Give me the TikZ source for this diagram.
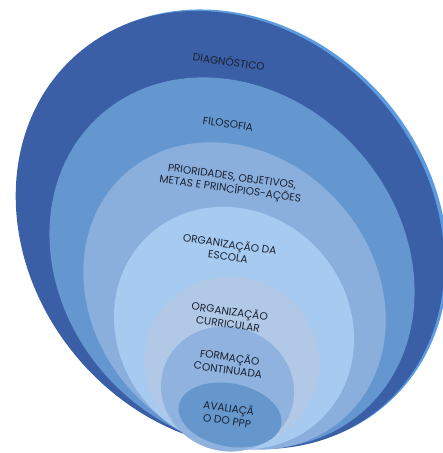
\documentclass[tikz,border=0pt]{standalone}
\usepackage{fontspec}
\setmainfont{Poppins}
\definecolor{cRim}{HTML}{5C9BE0}
\definecolor{cA}{HTML}{3A5FA6}
\definecolor{cB}{HTML}{6497CF}
\definecolor{cC}{HTML}{8BAFDD}
\definecolor{cD}{HTML}{A7CBF0}
\definecolor{cE}{HTML}{B1C8E6}
\definecolor{cF}{HTML}{8FB2DE}
\definecolor{cG}{HTML}{6596CC}
\definecolor{cTxt}{HTML}{1B2232}
\begin{document}
\begin{tikzpicture}[x=1pt,y=1pt,
  lbl/.style={text=cTxt, align=center, inner sep=0pt, rotate=-8,
    font=\fontsize{10.6}{12.6}\selectfont}]
\useasboundingbox (0,0) rectangle (443,453);
% outer rim
\fill[cRim, rotate around={-49:(233.5,224.5)}] (233.5,224.5) ellipse [x radius=233pt, y radius=199pt];
% rings
\fill[cA, rotate around={-49:(230,223)}] (230,223) ellipse [x radius=233pt, y radius=199pt];
\fill[cB, rotate around={-48:(232,190)}] (232,190) ellipse [x radius=198pt, y radius=169pt];
\fill[cC, rotate around={-48:(234.5,157)}] (234.5,157) ellipse [x radius=164pt, y radius=140pt];
\fill[cD, rotate around={-48:(234,125)}] (234,125) ellipse [x radius=126pt, y radius=115pt];
\fill[cE, rotate around={-20:(232,91)}] (232,91) ellipse [x radius=88pt, y radius=85pt];
\fill[cF, rotate around={-19:(227.5,64)}] (227.5,64) ellipse [x radius=67pt, y radius=62pt];
\fill[cG, rotate around={-11:(230,38)}] (230,38) ellipse [x radius=52pt, y radius=31.5pt];
% labels
\node[lbl] (diag) at (229,392) {DIAGNÓSTICO};
\node[lbl] (filo) at (228,329) {FILOSOFIA};
\node[lbl] (prio) at (231,269) {PRIORIDADES, OBJETIVOS,\\METAS E PRINCÍPIOS-AÇÕES};
\node[lbl] (esc) at (229,203) {ORGANIZAÇÃO DA\\ESCOLA};
\node[lbl] (curr) at (229,136) {ORGANIZAÇÃO\\CURRICULAR};
\node[lbl] (form) at (229,90) {FORMAÇÃO\\CONTINUADA};
\node[lbl] (aval) at (228,39) {AVALIAÇÃ\\O DO PPP};
\end{tikzpicture}
\end{document}
